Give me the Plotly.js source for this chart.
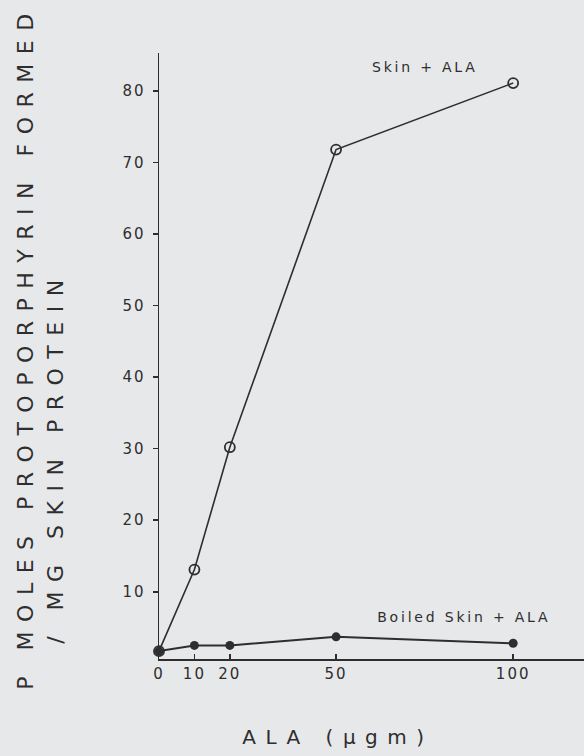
<!DOCTYPE html>
<html>
<head>
<meta charset="utf-8">
<script src="https://cdn.plot.ly/plotly-3.0.1.min.js"></script>
<style>
html,body{margin:0;padding:0;background:#e7e8ea;}
#chart{width:584px;height:756px;}
.ytitle-ann .annotation-text{letter-spacing:9.5px;}
.xtitle-ann .annotation-text{letter-spacing:9.5px;}
.label-ann .annotation-text{letter-spacing:2.8px;}
.xtick text,.ytick text{letter-spacing:2px;}
</style>
</head>
<body>
<div id="chart"></div>
<script>
// Data
const alaDose = [0, 10, 20, 50, 100];
const skinAla = [1.7, 13.1, 30.2, 71.8, 81.1];
const boiledSkinAla = [1.7, 2.5, 2.5, 3.7, 2.8];
const xTickVals = [0, 10, 20, 50, 100];
const xTickText = ['0', '10', '20', '50', '100'];
const yTickVals = [10, 20, 30, 40, 50, 60, 70, 80];
const yTickText = ['10', '20', '30', '40', '50', '60', '70', '80'];

const ink = '#2e2e2e';
const font = 'DejaVu Sans, Arial, sans-serif';

const traces = [
  {
    x: alaDose, y: skinAla, type: 'scatter', mode: 'lines+markers',
    name: 'Skin + ALA',
    line: {color: ink, width: 1.6},
    marker: {symbol: 'circle-open', size: 10, color: ink, line: {width: 1.8, color: ink}},
    cliponaxis: false
  },
  {
    x: alaDose, y: boiledSkinAla, type: 'scatter', mode: 'lines+markers',
    name: 'Boiled Skin + ALA',
    line: {color: ink, width: 2},
    marker: {symbol: 'circle', size: 9, color: ink},
    cliponaxis: false
  }
];

const layout = {
  width: 584, height: 756,
  paper_bgcolor: '#e7e8ea', plot_bgcolor: '#e7e8ea',
  margin: {l: 159, r: 0, t: 53, b: 97, pad: 0},
  showlegend: false,
  font: {family: font, color: ink},
  xaxis: {
    range: [0, 120], showgrid: false, zeroline: false,
    showline: true, linecolor: ink, linewidth: 1.5,
    ticks: 'inside', ticklen: 5, tickcolor: ink, tickwidth: 1.5,
    tickvals: xTickVals, ticktext: xTickText,
    tickfont: {size: 15, color: ink, family: font}
  },
  yaxis: {
    range: [0.6, 85.3], showgrid: false, zeroline: false,
    showline: true, linecolor: ink, linewidth: 1.5,
    ticks: 'outside', ticklen: 5, tickcolor: ink, tickwidth: 1.5,
    tickvals: yTickVals, ticktext: yTickText,
    tickfont: {size: 15, color: ink, family: font},
    ticklabelstandoff: 4
  },
  annotations: [
    {xref: 'paper', yref: 'paper', x: -0.313, y: 0.515, xanchor: 'center', yanchor: 'middle',
     text: 'P MOLES PROTOPORPHYRIN FORMED', textangle: -90, showarrow: false,
     font: {size: 22, color: ink, family: font}},
    {xref: 'paper', yref: 'paper', x: -0.245, y: 0.333, xanchor: 'center', yanchor: 'middle',
     text: '/ MG SKIN PROTEIN', textangle: -90, showarrow: false,
     font: {size: 22, color: ink, family: font}},
    {xref: 'paper', yref: 'paper', x: 0.422, y: -0.129, xanchor: 'center', yanchor: 'middle',
     text: 'ALA (µgm)', showarrow: false,
     font: {size: 20, color: ink, family: font}},
    {x: 75, y: 83.3, text: 'Skin + ALA', showarrow: false,
     font: {size: 14, color: ink, family: font}},
    {x: 86, y: 6.5, text: 'Boiled Skin + ALA', showarrow: false,
     font: {size: 14, color: ink, family: font}}
  ]
};

Plotly.newPlot('chart', traces, layout, {staticPlot: true, displayModeBar: false}).then(function(gd){
  const anns = gd.querySelectorAll('.annotation');
  const cls = ['ytitle-ann', 'ytitle-ann', 'xtitle-ann', 'label-ann', 'label-ann'];
  anns.forEach(function(a, i){ if (cls[i]) a.classList.add(cls[i]); });
});
</script>
</body>
</html>
